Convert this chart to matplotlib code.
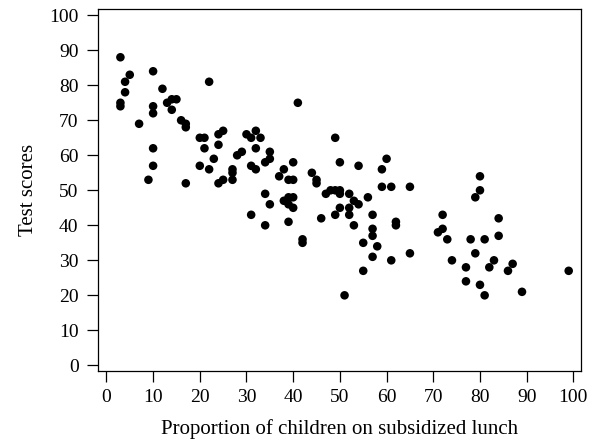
import matplotlib
matplotlib.use("Agg")
import matplotlib.pyplot as plt

# Proportion of children on subsidized lunch (x) and test scores (y)
lunch = [3, 3, 3, 4, 4, 5, 7, 9, 10, 10, 10, 10, 10, 12, 13, 14, 14, 15, 16, 17, 17, 17,
         20, 20, 21, 21, 22, 22, 23, 24, 24, 24, 25, 25, 27, 27, 27, 28, 29, 30, 31, 31, 31,
         32, 32, 32, 33, 34, 34, 34, 35, 35, 35, 37, 38, 38, 39, 39, 39, 39, 40, 40, 40, 40,
         41, 42, 42, 44, 45, 45, 46, 47, 48, 49, 49, 49, 50, 50, 50, 50, 51, 52, 52, 52, 53,
         53, 54, 54, 55, 55, 56, 57, 57, 57, 57, 58, 59, 59, 60, 61, 61, 62, 62, 65, 65,
         71, 72, 72, 73, 74, 77, 77, 78, 79, 79, 80, 80, 80, 81, 81, 82, 83, 84, 84, 86, 87,
         89, 99]
scores = [88, 75, 74, 81, 78, 83, 69, 53, 84, 74, 72, 62, 57, 79, 75, 76, 73, 76, 70, 69, 68, 52,
          65, 57, 65, 62, 81, 56, 59, 66, 63, 52, 67, 53, 56, 55, 53, 60, 61, 66, 65, 57, 43,
          67, 62, 56, 65, 58, 49, 40, 61, 59, 46, 54, 56, 47, 53, 48, 46, 41, 58, 53, 48, 45,
          75, 36, 35, 55, 53, 52, 42, 49, 50, 65, 50, 43, 58, 50, 49, 45, 20, 49, 45, 43, 47,
          40, 57, 46, 35, 27, 48, 43, 39, 37, 31, 34, 56, 51, 59, 51, 30, 41, 40, 51, 32,
          38, 43, 39, 36, 30, 28, 24, 36, 48, 32, 54, 50, 23, 36, 20, 28, 30, 42, 37, 27, 29,
          21, 27]

x_ticks = list(range(0, 101, 10))
y_ticks = list(range(0, 101, 10))
x_label = "Proportion of children on subsidized lunch"
y_label = "Test scores"

plt.rcParams['font.family'] = ['Liberation Serif', 'DejaVu Serif']

fig = plt.figure(figsize=(5.89, 4.45), dpi=100)
ax = fig.add_axes([98/589, 1 - 371.3/445, (581.3-98)/589, (371.3-9.3)/445])
ax.scatter(lunch, scores, s=38, c='black', edgecolors='none')
ax.set_xlim(-1.8, 101.7)
ax.set_ylim(-1.7, 101.7)
ax.set_xticks(x_ticks)
ax.set_yticks(y_ticks)
ax.tick_params(axis='both', direction='out', length=8, width=0.9, labelsize=14, color='black')
ax.tick_params(axis='x', pad=5)
ax.tick_params(axis='y', pad=6)
for sp in ax.spines.values():
    sp.set_linewidth(0.9)
ax.set_xlabel(x_label, fontsize=15, labelpad=9)
ax.set_ylabel(y_label, fontsize=15, labelpad=8)
fig.savefig("out.png", dpi=100)
